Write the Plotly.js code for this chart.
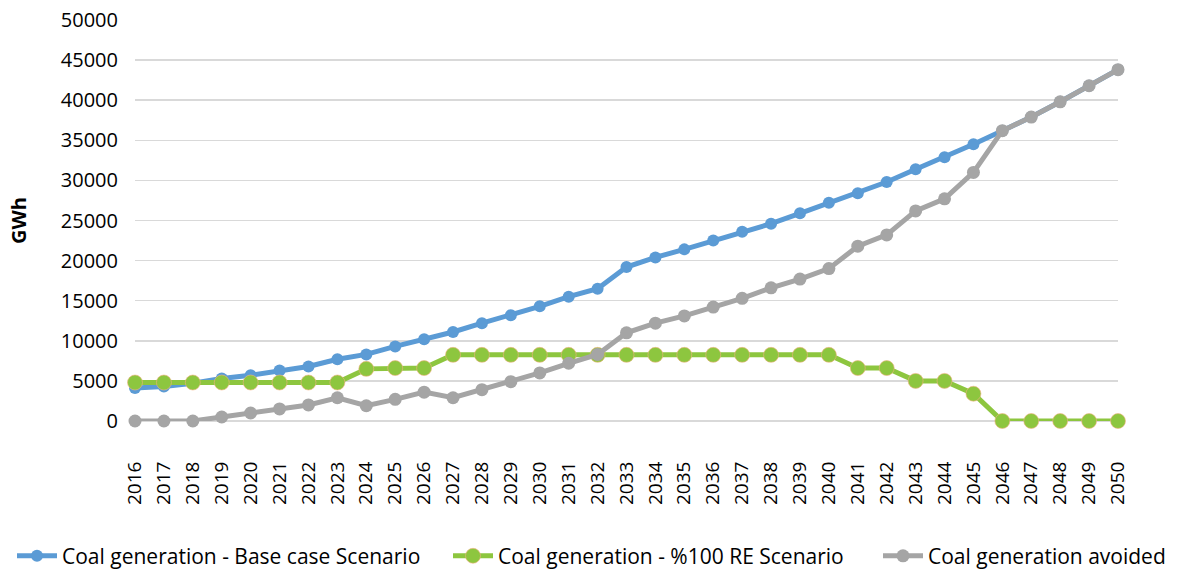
<!DOCTYPE html>
<html>
<head>
<meta charset="utf-8">
<script src="https://cdn.plot.ly/plotly-3.0.1.min.js"></script>
<style>html,body{margin:0;padding:0;background:#fff;}#chart{width:1187px;height:571px;}</style>
</head>
<body>
<div id="chart"></div>
<script>
const years = [2016,2017,2018,2019,2020,2021,2022,2023,2024,2025,2026,2027,2028,2029,2030,2031,2032,2033,2034,2035,2036,2037,2038,2039,2040,2041,2042,2043,2044,2045,2046,2047,2048,2049,2050];
const baseCase = [4100,4300,4700,5300,5700,6300,6800,7700,8300,9300,10200,11100,12200,13200,14300,15500,16500,19200,20400,21400,22500,23600,24600,25900,27200,28400,29800,31400,32900,34500,36200,37900,39800,41800,43800];
const re100 = [4800,4800,4800,4800,4800,4800,4800,4800,6500,6600,6600,8250,8250,8250,8250,8250,8250,8250,8250,8250,8250,8250,8250,8250,8250,6600,6600,5000,5000,3400,0,0,0,0,0];
const avoided = [0,0,0,500,1000,1500,2000,2900,1900,2700,3600,2900,3900,4900,6000,7200,8300,11000,12200,13100,14200,15300,16600,17700,19000,21800,23200,26200,27700,31000,36200,37900,39800,41800,43800];
const seriesNames = ["Coal generation - Base case Scenario","Coal generation - %100 RE Scenario","Coal generation avoided"];

const FONT = "Open Sans, Noto Sans, sans-serif";
const traces = [
  {x: years, y: baseCase, name: seriesNames[0], mode: "lines+markers", cliponaxis: false, legend: "legend",
   line: {color: "#5B9BD5", width: 5}, marker: {color: "#5B9BD5", size: 12}},
  {x: years, y: re100, name: seriesNames[1], mode: "lines+markers", cliponaxis: false, legend: "legend2",
   line: {color: "#8DC63F", width: 5}, marker: {color: "#8DC63F", size: 15, line: {color: "#F4B183", width: 0.6}}},
  {x: years, y: avoided, name: seriesNames[2], mode: "lines+markers", cliponaxis: false, legend: "legend3",
   line: {color: "#A5A5A5", width: 5}, marker: {color: "#A5A5A5", size: 13}}
];

function leg(px) {
  return {orientation: "h", xref: "container", yref: "container",
          x: px / 1187, xanchor: "left", y: 0.026, yanchor: "middle",
          font: {family: FONT, size: 21, color: "#000"}, itemwidth: 40,
          bgcolor: "rgba(0,0,0,0)"};
}

const layout = {
  width: 1187, height: 571,
  margin: {l: 135, r: 69, t: 20, b: 150, autoexpand: false},
  paper_bgcolor: "#fff", plot_bgcolor: "#fff",
  font: {family: FONT, color: "#000", size: 18},
  showlegend: true,
  legend: leg(12),
  legend2: leg(448),
  legend3: leg(878),
  xaxis: {type: "linear", range: [2016, 2050], dtick: 1, tick0: 2016, tickangle: -90,
          showgrid: false, zeroline: false, showline: false,
          ticks: "outside", ticklen: 32, tickcolor: "rgba(0,0,0,0)",
          tickfont: {family: FONT, size: 19, color: "#000"}, automargin: false},
  yaxis: {range: [0, 50000], dtick: 5000, tick0: 0, showgrid: true, gridcolor: "#D9D9D9", gridwidth: 1.5,
          zeroline: true, zerolinecolor: "#D9D9D9", zerolinewidth: 1.5, showline: false,
          ticks: "outside", ticklen: 12, tickcolor: "rgba(0,0,0,0)",
          tickformat: "d",
          tickfont: {family: FONT, size: 20, color: "#000"}, automargin: false,
          title: {text: "<b>GWh</b>", font: {family: FONT, size: 20, color: "#000"}, standoff: 28}}
};

Plotly.newPlot("chart", traces, layout, {displayModeBar: false, staticPlot: true});
</script>
</body>
</html>
